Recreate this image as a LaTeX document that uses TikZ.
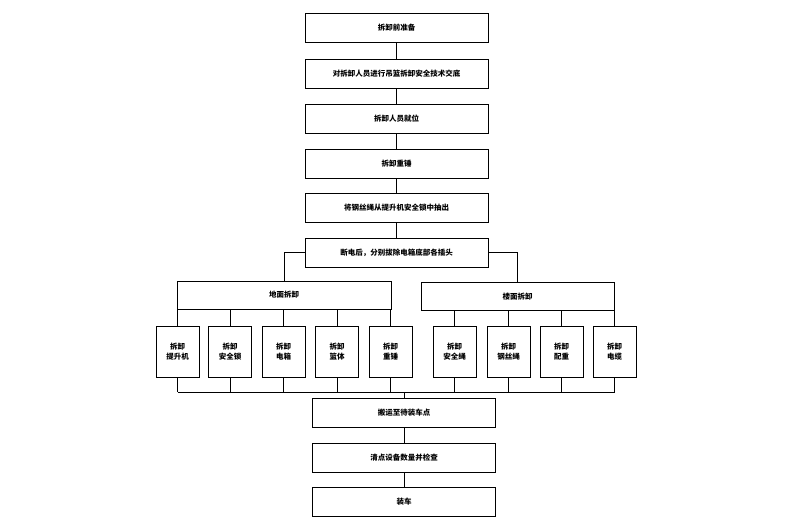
\documentclass[tikz,border=0pt]{standalone}
\usepackage{fontspec}
\setmainfont{Noto Sans CJK SC}
\usetikzlibrary{positioning, calc}
\newcommand{\flowfont}{\fontsize{7.5}{10}\selectfont\bfseries}

\begin{document}
\begin{tikzpicture}[x=1pt, y=-1pt, align=center]
       \flowfont
       \tikzstyle{stepbox} = [
            rectangle,
            draw=black,
            thick,
            minimum width=183pt,
            minimum height=29pt,
            inner sep=0pt
       ]
       \tikzstyle{groupbox} = [
            rectangle,
            draw=black,
            thick,
            minimum height=28pt,
            inner sep=0pt
       ]
       \tikzstyle{partbox} = [
            rectangle,
            draw=black,
            thick,
            minimum width=43pt,
            minimum height=51pt,
            inner sep=0pt
       ]
       \tikzstyle{line} = [thick]
       \useasboundingbox (0,0) rectangle (800,532);

       \node (prep) [stepbox] at (396.5,27.5) {拆卸前准备};
       \node (brief) [stepbox] at (396.5,73.5) {对拆卸人员进行吊篮拆卸安全技术交底};
       \node (staff) [stepbox] at (396.5,118.5) {拆卸人员就位};
       \node (weight) [stepbox] at (396.5,163.5) {拆卸重锤};
       \node (rope) [stepbox] at (396.5,208) {将钢丝绳从提升机安全锁中抽出};
       \node (power) [stepbox] at (396.5,252.5) {断电后，分别拔除电箱底部各插头};

       \node (ground) [groupbox, minimum width=214pt] at (284,295) {地面拆卸};
       \node (floor) [groupbox, minimum width=193pt] at (517.5,296.5) {楼面拆卸};

       \node (hoist) [partbox] at (177.5,352) {拆卸\\提升机};
       \node (lock) [partbox] at (230,352) {拆卸\\安全锁};
       \node (ebox) [partbox] at (283.5,352) {拆卸\\电箱};
       \node (basket) [partbox] at (337,352) {拆卸\\篮体};
       \node (hammer) [partbox] at (390.5,352) {拆卸\\重锤};
       \node (srope) [partbox] at (454.5,352) {拆卸\\安全绳};
       \node (wire) [partbox] at (508.5,352) {拆卸\\钢丝绳};
       \node (counter) [partbox] at (561.5,352) {拆卸\\配重};
       \node (cable) [partbox] at (614.5,352) {拆卸\\电缆};

       \node (carry) [stepbox] at (404,413) {搬运至待装车点};
       \node (count) [stepbox] at (404,457.5) {清点设备数量并检查};
       \node (load) [stepbox] at (404,502) {装车};

       \coordinate (bus) at (404,392);

       \draw[line] (prep) -- (brief);
       \draw[line] (brief) -- (staff);
       \draw[line] (staff) -- (weight);
       \draw[line] (weight) -- (rope);
       \draw[line] (rope) -- (power);
       \draw[line] (power.west) -| (ground);
       \draw[line] (power.east) -| (floor);
       \foreach \part in {hoist, lock, ebox, basket, hammer}
           \draw[line] (ground.south -| \part) -- (\part.north);
       \foreach \part in {srope, wire, counter, cable}
           \draw[line] (floor.south -| \part) -- (\part.north);
       \foreach \part in {hoist, lock, ebox, basket, hammer, srope, wire, counter, cable}
           \draw[line] (\part.south) -- (\part.south |- bus);
       \draw[line] (hoist.south |- bus) -- (cable.south |- bus);
       \draw[line] (bus) -- (carry);
       \draw[line] (carry) -- (count);
       \draw[line] (count) -- (load);
\end{tikzpicture}
\end{document}
